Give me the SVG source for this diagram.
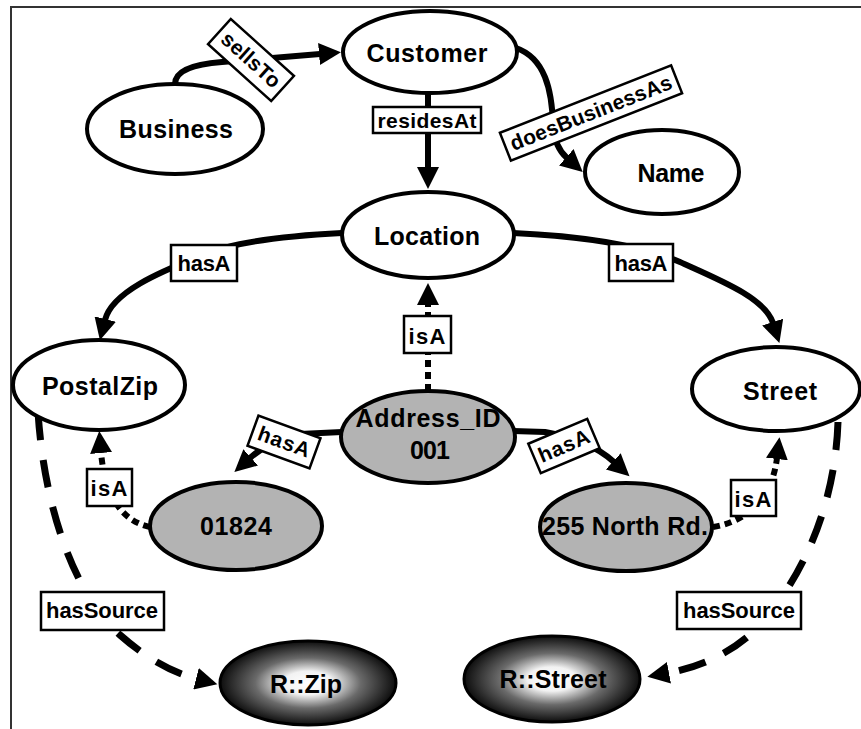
<svg xmlns="http://www.w3.org/2000/svg" width="861" height="729" viewBox="0 0 861 729">
  <style>
    .frame { stroke: #333; stroke-width: 2; fill: none; }
    .node { fill: #fff; stroke: #000; stroke-width: 4; }
    .inst { fill: #b3b3b3; stroke: #000; stroke-width: 4; }
    .src { stroke: #000; stroke-width: 3; }
    .nt { font-family: "Liberation Sans", Arial, sans-serif; font-weight: bold; font-size: 25px; fill: #000; text-anchor: middle; }
    .lt { font-family: "Liberation Sans", Arial, sans-serif; font-weight: bold; font-size: 21px; fill: #000; text-anchor: middle; }
    .lbox { fill: #fff; stroke: #000; stroke-width: 2.5; }
    .edge { fill: none; stroke: #000; stroke-width: 6; }
    .dot { fill: none; stroke: #000; stroke-width: 6; stroke-dasharray: 7 5; }
    .dash { fill: none; stroke: #000; stroke-width: 7; stroke-dasharray: 28 20; }
  </style>
  <defs>
    <marker id="arr" markerUnits="userSpaceOnUse" markerWidth="24" markerHeight="22" refX="1" refY="11" orient="auto">
      <path d="M0,0 L22,11 L0,22 z" fill="#000"/>
    </marker>
    <radialGradient id="glow" cx="50%" cy="50%" r="50%">
      <stop offset="0" stop-color="#fff"/>
      <stop offset="0.28" stop-color="#f2f2f2"/>
      <stop offset="0.6" stop-color="#6a6a6a"/>
      <stop offset="1" stop-color="#0d0d0d"/>
    </radialGradient>
  </defs>

  <!-- frame -->
  <path class="frame" d="M10 7 H861 M11 7 V729"/>

  <!-- connectors -->
  <g id="connectors">
    <path class="edge" d="M175 84 C175 70 195 64 222 62 L320 54" marker-end="url(#arr)"/>
    <path class="edge" d="M428 93 L428 168" marker-end="url(#arr)"/>
    <path class="edge" d="M516 48 C545 58 552 90 553 125 C554 140 558 150 567 158" marker-end="url(#arr)"/>
    <path class="edge" d="M342 233 C280 236 230 243 200 256 C160 272 112 292 105 320" marker-end="url(#arr)"/>
    <path class="edge" d="M513 233 C580 236 640 245 680 262 C720 280 765 298 773 323" marker-end="url(#arr)"/>
    <path class="dot" d="M428 391 L428 304" marker-end="url(#arr)"/>
    <path class="edge" d="M342 432 L300 434 Q270 440 250 458" marker-end="url(#arr)"/>
    <path class="edge" d="M513 431 L545 432 Q590 440 614 462" marker-end="url(#arr)"/>
    <path class="dot" d="M150 527 C125 522 105 500 101 452" marker-end="url(#arr)"/>
    <path class="dot" d="M713 527 C745 522 772 500 777 458" marker-end="url(#arr)"/>
    <path class="dash" d="M38 412 C45 520 80 600 120 635 C145 657 170 672 197 679" marker-end="url(#arr)"/>
    <path class="dash" d="M838 422 C835 510 800 580 760 625 C735 652 700 667 668 673" marker-end="url(#arr)"/>

    <!-- edge labels -->
    <g transform="translate(251 60) rotate(42)">
      <rect class="lbox" x="-42.5" y="-17" width="85" height="34"/>
      <text class="lt" x="0" y="7" textLength="72" lengthAdjust="spacing">sellsTo</text>
    </g>
    <g>
      <rect class="lbox" x="373" y="107" width="108" height="26"/>
      <text class="lt" x="427" y="128" textLength="99" lengthAdjust="spacing">residesAt</text>
    </g>
    <g transform="translate(591 113) rotate(-21.5)">
      <rect class="lbox" x="-92" y="-15" width="184" height="30"/>
      <text class="lt" x="0" y="7" textLength="172" lengthAdjust="spacing">doesBusinessAs</text>
    </g>
    <g>
      <rect class="lbox" x="171" y="245" width="66" height="36"/>
      <text class="lt" x="204" y="271" style="font-size:22px" textLength="53" lengthAdjust="spacing">hasA</text>
    </g>
    <g>
      <rect class="lbox" x="609" y="244" width="64" height="37"/>
      <text class="lt" x="641" y="271" style="font-size:22px" textLength="53" lengthAdjust="spacing">hasA</text>
    </g>
    <g>
      <rect class="lbox" x="404" y="316" width="47" height="37"/>
      <text class="lt" x="427" y="344" style="font-size:22px" textLength="37" lengthAdjust="spacing">isA</text>
    </g>
    <g transform="translate(284 442) rotate(20)">
      <rect class="lbox" x="-33" y="-16" width="66" height="32"/>
      <text class="lt" x="0" y="7" textLength="54" lengthAdjust="spacing">hasA</text>
    </g>
    <g transform="translate(564 446) rotate(-23)">
      <rect class="lbox" x="-32" y="-16" width="64" height="32"/>
      <text class="lt" x="0" y="7" textLength="54" lengthAdjust="spacing">hasA</text>
    </g>
    <g>
      <rect class="lbox" x="87" y="469" width="45" height="37"/>
      <text class="lt" x="109" y="496" style="font-size:22px" textLength="37" lengthAdjust="spacing">isA</text>
    </g>
    <g>
      <rect class="lbox" x="731" y="480" width="45" height="36"/>
      <text class="lt" x="753" y="507" style="font-size:22px" textLength="37" lengthAdjust="spacing">isA</text>
    </g>
    <g>
      <rect class="lbox" x="41" y="592" width="123" height="38"/>
      <text class="lt" x="102" y="618" style="font-size:22px" textLength="112" lengthAdjust="spacing">hasSource</text>
    </g>
    <g>
      <rect class="lbox" x="677" y="592" width="124" height="37"/>
      <text class="lt" x="739" y="618" style="font-size:22px" textLength="112" lengthAdjust="spacing">hasSource</text>
    </g>
  </g>

  <!-- nodes -->
  <g id="customer">
    <ellipse class="node" cx="430" cy="52" rx="87" ry="41"/>
    <text class="nt" x="427" y="62" textLength="121" lengthAdjust="spacing">Customer</text>
  </g>
  <g id="business">
    <ellipse class="node" cx="175" cy="129" rx="88" ry="45"/>
    <text class="nt" x="176" y="138" textLength="114" lengthAdjust="spacing">Business</text>
  </g>
  <g id="name">
    <ellipse class="node" cx="662" cy="172" rx="77" ry="42"/>
    <text class="nt" x="671" y="182" textLength="67" lengthAdjust="spacing">Name</text>
  </g>
  <g id="location">
    <ellipse class="node" cx="428" cy="235" rx="86" ry="43"/>
    <text class="nt" x="427" y="245" textLength="106" lengthAdjust="spacing">Location</text>
  </g>
  <g id="postalzip">
    <ellipse class="node" cx="99" cy="385" rx="86" ry="45"/>
    <text class="nt" x="100" y="395" textLength="116" lengthAdjust="spacing">PostalZip</text>
  </g>
  <g id="street">
    <ellipse class="node" cx="776" cy="389" rx="84" ry="42"/>
    <text class="nt" x="780" y="400" textLength="74" lengthAdjust="spacing">Street</text>
  </g>
  <g id="address">
    <ellipse class="inst" cx="428" cy="437" rx="87" ry="46"/>
    <text class="nt" x="428" y="427" textLength="145" lengthAdjust="spacing">Address_ID</text>
    <text class="nt" x="430" y="459" textLength="40" lengthAdjust="spacing">001</text>
  </g>
  <g id="zip-value">
    <ellipse class="inst" cx="236" cy="526" rx="86" ry="44"/>
    <text class="nt" x="236" y="535" textLength="72" lengthAdjust="spacing">01824</text>
  </g>
  <g id="street-value">
    <ellipse class="inst" cx="626" cy="527" rx="86" ry="44"/>
    <text class="nt" x="625" y="535" textLength="166" lengthAdjust="spacing">255 North Rd.</text>
  </g>
  <g id="r-zip">
    <ellipse class="src" cx="308" cy="683" rx="88" ry="42" fill="url(#glow)"/>
    <text class="nt" x="306" y="693" textLength="72" lengthAdjust="spacing">R::Zip</text>
  </g>
  <g id="r-street">
    <ellipse class="src" cx="552" cy="679" rx="88" ry="43" fill="url(#glow)"/>
    <text class="nt" x="553" y="688" textLength="107" lengthAdjust="spacing">R::Street</text>
  </g>
</svg>
